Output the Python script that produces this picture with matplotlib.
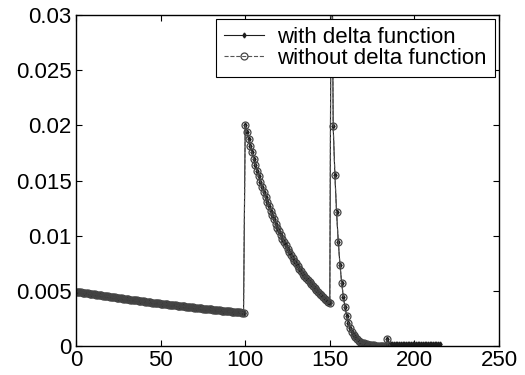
import numpy as np
import matplotlib.pyplot as plt

plt.rcParams['font.family'] = ['Liberation Sans', 'DejaVu Sans']

# values in units of 1e-4
low = [49.4, 49.2, 48.9, 48.7, 48.4, 48.2, 47.9, 47.7, 47.5, 47.2,
       47.0, 46.8, 46.5, 46.3, 46.1, 45.8, 45.6, 45.4, 45.2, 44.9,
       44.7, 44.5, 44.3, 44.1, 43.8, 43.6, 43.4, 43.2, 43.0, 42.7,
       42.5, 42.3, 42.1, 41.9, 41.7, 41.5, 41.3, 41.1, 40.9, 40.6,
       40.4, 40.2, 40.0, 39.8, 39.6, 39.4, 39.2, 39.0, 38.8, 38.7,
       38.5, 38.3, 38.1, 37.9, 37.7, 37.5, 37.3, 37.1, 36.9, 36.8,
       36.6, 36.4, 36.2, 36.0, 35.9, 35.7, 35.5, 35.3, 35.2, 35.0,
       34.8, 34.6, 34.5, 34.3, 34.1, 33.9, 33.8, 33.6, 33.4, 33.3,
       33.1, 32.9, 32.8, 32.6, 32.5, 32.3, 32.1, 32.0, 31.8, 31.7,
       31.5, 31.3, 31.2, 31.0, 30.9, 30.7, 30.6, 30.4, 30.3, 30.1]
mid = [200.0, 193.6, 187.3, 181.3, 175.4, 169.8, 164.3, 159.0, 153.9, 149.0,
       144.2, 139.5, 135.0, 130.7, 126.5, 122.4, 118.5, 114.7, 111.0, 107.4,
       103.9, 100.6, 97.3, 94.2, 91.2, 88.3, 85.4, 82.7, 80.0, 77.4,
       74.9, 72.5, 70.2, 67.9, 65.7, 63.6, 61.6, 59.6, 57.7, 55.8,
       54.0, 52.3, 50.6, 48.9, 47.4, 45.9, 44.4, 43.0, 41.6, 40.2, 38.9]
spike = [450.0]
tail = [199.0, 155.2, 121.1, 94.4, 73.7, 57.5, 44.8, 35.0, 27.3, 21.3,
        16.6, 12.9, 10.1, 7.9, 6.1, 4.8, 3.7, 2.9, 2.3, 1.8,
        1.4, 1.1, 0.8, 0.7, 0.5, 0.4, 0.3, 0.3, 0.2, 0.2,
        0.1, 0.1, 6.0]
rest = [2.0] * 31   # flat part, with delta function only (x = 185..215)

with_delta = np.array(low + mid + spike + tail + rest) * 1e-4
without_delta = np.array(low + mid + spike + tail) * 1e-4
x_with = np.arange(len(with_delta))
x_without = np.arange(len(without_delta))

fig = plt.figure(figsize=(5.25, 3.75), dpi=100)
ax = fig.add_axes([0.1448, 0.0773, 0.8057, 0.8827])

ax.plot(x_with, with_delta, '-', color='#1e1e1e', lw=0.8,
        marker='d', ms=2.5, label='with delta function')
ax.plot(x_without, without_delta, '--', color='#555555', lw=0.8,
        marker='o', ms=5, mfc='none', mec='#444444', mew=0.9,
        label='without delta function')

ax.set_xlim(0, 250)
ax.set_ylim(0, 0.03)
ax.set_xticks([0, 50, 100, 150, 200, 250])
ax.set_yticks([0, 0.005, 0.01, 0.015, 0.02, 0.025, 0.03])
ax.set_yticklabels(['0', '0.005', '0.01', '0.015', '0.02', '0.025', '0.03'])
ax.tick_params(direction='in', length=4, width=0.8, labelsize=16,
               top=True, right=True)
ax.tick_params(axis='x', pad=3)
ax.tick_params(axis='y', pad=3)
for s in ax.spines.values():
    s.set_linewidth(1.0)

leg = ax.legend(loc='upper right', fontsize=16, fancybox=False,
                edgecolor='black', framealpha=1, borderpad=0.35,
                labelspacing=0.02, handlelength=1.8, handletextpad=0.6,
                borderaxespad=0.1, bbox_to_anchor=(0.995, 0.995))
leg.get_frame().set_linewidth(0.8)

plt.savefig('out.png', dpi=100)
